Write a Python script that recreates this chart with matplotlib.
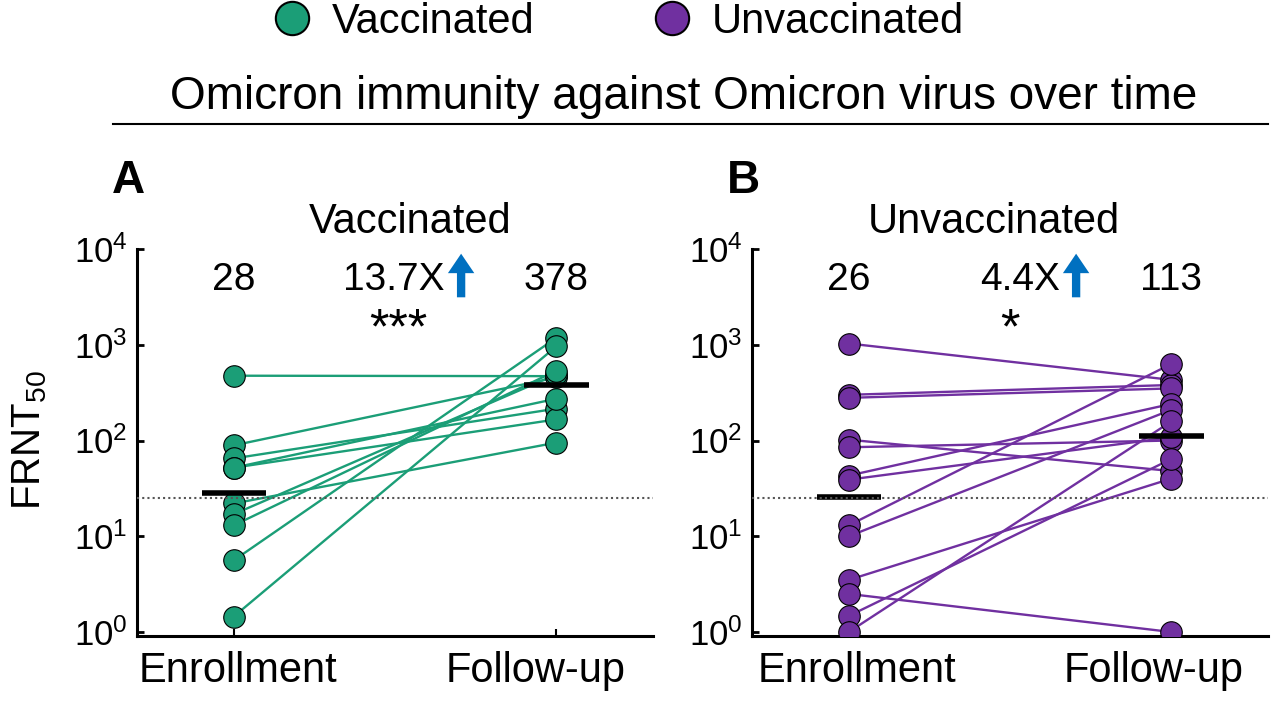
import numpy as np
import matplotlib
matplotlib.use("Agg")
import matplotlib.pyplot as plt
from matplotlib.lines import Line2D

plt.rcParams['font.family'] = ['Liberation Sans', 'DejaVu Sans']
plt.rcParams['mathtext.fontset'] = 'custom'
plt.rcParams['mathtext.rm'] = 'Liberation Sans'
plt.rcParams['mathtext.it'] = 'Liberation Sans:italic'

# FRNT50 titres, paired (enrollment -> follow-up)
vax_enroll = [475, 89, 65, 52, 52, 22, 17, 13, 5.6, 1.45]
vax_follow = [470, 455, 215, 166, 273, 95, 490, 535, 1180, 960]
unvax_enroll = [1030, 300, 279, 102, 85, 43, 39, 13, 10, 3.5, 2.5, 1.47, 1.0]
unvax_follow = [430, 380, 350, 48, 100, 241, 108, 630, 209, 40, 1.0, 64, 158]

timepoints = ["Enrollment", "Follow-up"]
gm_labels_vax = ["28", "378"]
gm_labels_unvax = ["26", "113"]
fold_vax = "13.7X"
fold_unvax = "4.4X"
sig_vax = "***"
sig_unvax = "*"
lod = 25

green = "#1b9e77"
purple = "#7030a0"
arrow_blue = "#0070c0"

fig = plt.figure(figsize=(12.8, 7.03), dpi=100)
W, H = 1280, 703


def panel(left, enroll, follow, color, title, title_x, letter, gm_labels,
          fold, sig, sig_x, label_x):
    ax = fig.add_axes([left / W, (H - 636) / H, 516 / W, 387 / H])
    ax.set_yscale('log')
    ax.set_ylim(10 ** (-4 / 96), 1e4)
    ax.set_xlim(-0.3, 1.3)

    for a, b in zip(enroll, follow):
        ax.plot([0, 1], [a, b], color=color, lw=1.7, zorder=2)
    ax.plot(np.zeros(len(enroll)), enroll, 'o', ms=15.5, mfc=color,
            mec='black', mew=0.8, ls='none', zorder=3)
    ax.plot(np.ones(len(follow)), follow, 'o', ms=15.5, mfc=color,
            mec='black', mew=0.8, ls='none', zorder=3)

    # geometric means
    for x, vals in zip([0, 1], [enroll, follow]):
        gm = np.exp(np.mean(np.log(vals)))
        ax.plot([x - 0.1, x + 0.1], [gm, gm], color='black', lw=4,
                solid_capstyle='butt', zorder=4)

    ax.axhline(lod, color='#555555', ls=(0, (1, 1.5)), lw=1.5, zorder=5)

    for s in ['top', 'right']:
        ax.spines[s].set_visible(False)
    for s in ['left', 'bottom']:
        ax.spines[s].set_linewidth(2.2)
    ax.set_yticks([1, 10, 100, 1000, 10000])
    ax.minorticks_off()
    ax.tick_params(axis='y', direction='in', length=5, width=2,
                   labelsize=25, pad=7)
    ax.tick_params(axis='x', direction='in', length=5, width=1.5)
    ax.set_xticks([0, 1])
    ax.set_xticklabels([])

    trans = ax.get_xaxis_transform()
    for lx, lab in zip(label_x, timepoints):
        ax.text(lx, -0.09, lab, transform=trans, ha='center', va='center',
                fontsize=30)

    ax.text(title_x, 1.07, title, transform=ax.transAxes, ha='center',
            va='center', fontsize=30)
    ax.text(-0.017, 1.176, letter, transform=ax.transAxes, ha='center',
            va='center', fontsize=33, fontweight='bold')

    ax.text(0, 0.92, gm_labels[0], transform=trans, ha='center',
            va='center', fontsize=28)
    ax.text(1, 0.92, gm_labels[1], transform=trans, ha='center',
            va='center', fontsize=28)
    ax.text(0.655, 0.92, fold, transform=trans, ha='right',
            va='center', fontsize=28)
    ax.annotate('', xy=(0.705, 0.995), xytext=(0.705, 0.868),
                xycoords=trans, textcoords=trans,
                arrowprops=dict(arrowstyle='simple,head_width=1.9,head_length=1.4,tail_width=0.6',
                                color=arrow_blue, lw=0))
    ax.text(sig_x, 0.79, sig, transform=trans, ha='center',
            va='center', fontsize=36)
    return ax


panel(137, vax_enroll, vax_follow, green, "Vaccinated", 0.529, "A",
      gm_labels_vax, fold_vax, sig_vax, 0.51, [0.012, 0.935])
panel(752, unvax_enroll, unvax_follow, purple, "Unvaccinated", 0.469, "B",
      gm_labels_unvax, fold_unvax, sig_unvax, 0.50, [0.025, 0.944])

fig.text(30 / W, 1 - 440 / H, r'FRNT$_{50}$', rotation=90, ha='center',
         va='center', fontsize=29)

fig.text(684 / W, 1 - 97 / H, "Omicron immunity against Omicron virus over time",
         ha='center', va='center', fontsize=33)
fig.add_artist(Line2D([113 / W, 1268 / W], [1 - 124 / H] * 2,
                      color='black', lw=1.5))

handles = [Line2D([], [], marker='o', ls='none', ms=24, mfc=green,
                  mec='black', mew=1.5),
           Line2D([], [], marker='o', ls='none', ms=24, mfc=purple,
                  mec='black', mew=1.5)]
fig.legend(handles, ["Vaccinated", "Unvaccinated"], loc='center',
           bbox_to_anchor=(0.484, 1 - 22 / H), ncol=2, frameon=False,
           fontsize=30, handlelength=0.8, handletextpad=0.55,
           columnspacing=2.9, borderpad=0)

fig.savefig("out.png", dpi=100)
